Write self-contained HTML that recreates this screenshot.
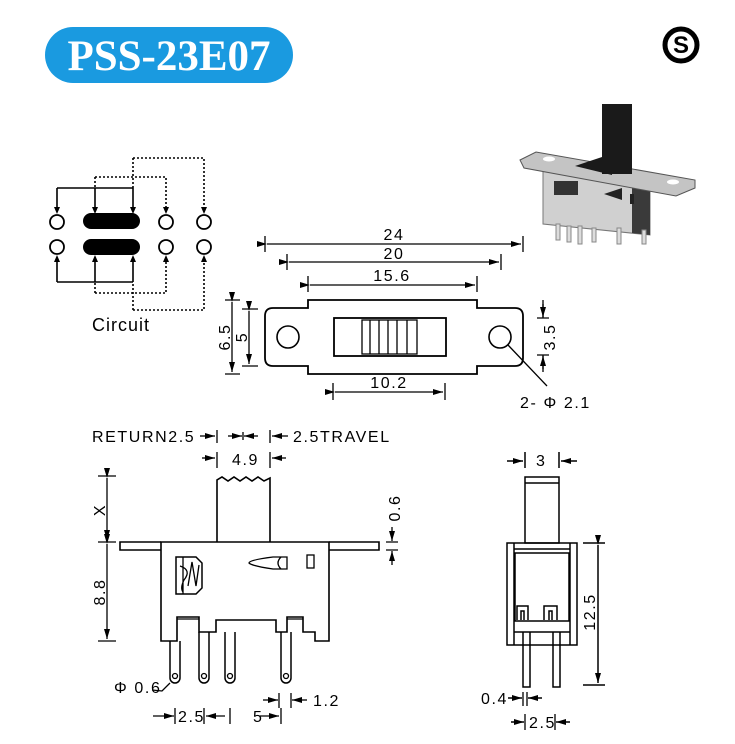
<!DOCTYPE html>
<html><head><meta charset="utf-8"><style>
html,body{margin:0;padding:0;background:#fff;}
svg{display:block;font-family:"Liberation Sans",sans-serif;}
.t text{font-size:16px;letter-spacing:1.6px;}
</style></head><body>
<svg width="735" height="744" viewBox="0 0 735 744" xmlns="http://www.w3.org/2000/svg">
<defs>
<marker id="a" markerWidth="10" markerHeight="6" refX="10" refY="3" orient="auto" markerUnits="userSpaceOnUse"><path d="M0,0 L10,3 L0,6 z" fill="#000"/></marker>
</defs>
<!-- title -->
<rect x="45" y="27" width="248" height="56" rx="28" fill="#1a9ae0"/>
<text x="169" y="70" text-anchor="middle" font-family="Liberation Serif,serif" font-weight="bold" font-size="43" fill="#fff">PSS-23E07</text>
<!-- S logo -->
<circle cx="681" cy="45" r="16" fill="none" stroke="#000" stroke-width="5"/>
<text x="681" y="53" text-anchor="middle" font-weight="bold" font-size="24">S</text>

<!-- circuit -->
<g stroke="#000" stroke-width="1.6" fill="none">
<path d="M57,188 H133 M57,188 V210 M95,188 V208 M133,188 V208" />
<path d="M57,282 H133 M57,282 V258 M95,282 V260 M133,282 V260" />
<g stroke-dasharray="2,2">
<path d="M95,177 H166 V210 M95,177 V188 M133,158 H204 V210 M133,158 V188"/>
<path d="M95,293 H166 V258 M95,293 V282 M133,310 H204 V258 M133,310 V282"/>
</g>
<g stroke-width="1.8"><circle cx="57" cy="222" r="7"/><circle cx="57" cy="247" r="7"/>
<circle cx="166" cy="222" r="7"/><circle cx="166" cy="247" r="7"/>
<circle cx="204" cy="222" r="7"/><circle cx="204" cy="247" r="7"/></g>
</g>
<rect x="83" y="213" width="57" height="16" rx="8" fill="#000"/>
<rect x="83" y="239" width="57" height="16" rx="8" fill="#000"/>
<g fill="#000"><path d="M54,207 L60,207 L57,214z M92,207 L98,207 L95,214z M130,207 L136,207 L133,214z M163,207 L169,207 L166,214z M201,207 L207,207 L204,214z"/>
<path d="M54,262 L60,262 L57,255z M92,262 L98,262 L95,255z M130,262 L136,262 L133,255z M163,262 L169,262 L166,255z M201,262 L207,262 L204,255z"/></g>
<text x="92" y="331" font-size="18" letter-spacing="1">Circuit</text>

<!-- photo -->
<g>
<polygon points="543,170 650,182 650,235 543,224" fill="#d0d0d0" stroke="#777"/>
<polygon points="632,182 650,184 650,235 632,233" fill="#3a3a3a"/>
<polygon points="520,160 536,152 695,180 695,188 676,196 524,168" fill="#c4c4c4" stroke="#555"/>
<polygon points="575,166 602,157 612,158 612,175" fill="#1a1a1a"/>
<rect x="602" y="104" width="30" height="70" fill="#1a1a1a"/>
<rect x="554" y="181" width="24" height="14" fill="#333"/>
<polygon points="604,194 622,188 622,200" fill="#222"/>
<rect x="630" y="194" width="4" height="10" fill="#222"/>
<g fill="#ddd" stroke="#888"><rect x="556" y="224" width="4" height="16"/><rect x="567" y="226" width="4" height="16"/><rect x="578" y="226" width="4" height="18"/><rect x="592" y="228" width="4" height="14"/><rect x="617" y="228" width="4" height="16"/><rect x="642" y="230" width="4" height="14"/></g>
<ellipse cx="549" cy="159" rx="6" ry="2.5" fill="#fff"/><ellipse cx="673" cy="182" rx="6" ry="2.5" fill="#fff"/>
</g>

<!-- top view -->
<g stroke="#000" stroke-width="1.3" fill="none">
<path d="M265,236 V252 M523,236 V252 M287,254 V270 M501,254 V270 M308,276 V292 M477,276 V292"/>
<line x1="267" y1="244" x2="521" y2="244" marker-end="url(#a)" marker-start="url(#a)"/>
<line x1="289" y1="262" x2="499" y2="262" marker-end="url(#a)" marker-start="url(#a)"/>
<line x1="310" y1="285" x2="475" y2="285" marker-end="url(#a)" marker-start="url(#a)"/>
<path d="M308,308 V300 H477 V308 H515 Q523,308 523,316 V358 Q523,366 515,366 H477 V374 H308 V366 H273 Q265,366 265,358 V316 Q265,308 273,308 Z" stroke-width="1.8"/>
<rect x="334" y="318" width="112" height="38" stroke-width="1.8"/>
<rect x="362" y="320" width="55" height="34"/>
<path d="M370,320 V354 M379,320 V354 M388,320 V354 M397,320 V354 M407,320 V354"/>
<circle cx="288" cy="337" r="11" stroke-width="1.6"/><circle cx="500" cy="337" r="11" stroke-width="1.6"/>
<path d="M225,300 H240 M225,374 H240 M242,309 H258 M242,366 H258"/>
<line x1="232" y1="302" x2="232" y2="372" marker-end="url(#a)" marker-start="url(#a)"/>
<line x1="249" y1="311" x2="249" y2="364" marker-end="url(#a)" marker-start="url(#a)"/>
<path d="M333,383 V400 M445,383 V400"/>
<line x1="335" y1="392" x2="443" y2="392" marker-end="url(#a)" marker-start="url(#a)"/>
<path d="M537,318 H549 M537,355 H549 M543,300 V318 M543,355 V372"/>
<line x1="543" y1="304" x2="543" y2="317" marker-end="url(#a)"/>
<line x1="543" y1="369" x2="543" y2="356" marker-end="url(#a)"/>
<path d="M508,345 L547,386"/>
</g>
<g class="t"><text x="394" y="240" text-anchor="middle">24</text><text x="394" y="259" text-anchor="middle">20</text><text x="392" y="281" text-anchor="middle">15.6</text><text x="389" y="388" text-anchor="middle">10.2</text>
<text x="230" y="337" transform="rotate(-90 230 337)" text-anchor="middle">6.5</text><text x="247" y="337" transform="rotate(-90 247 337)" text-anchor="middle">5</text>
<text x="555" y="337" transform="rotate(-90 555 337)" text-anchor="middle">3.5</text>
<text x="520" y="408">2- Φ 2.1</text></g>

<!-- side view -->
<g class="t"><text x="92" y="442">RETURN2.5</text><text x="293" y="442">2.5TRAVEL</text><text x="232" y="465">4.9</text>
<text x="105" y="510" transform="rotate(-90 105 510)" text-anchor="middle">X</text>
<text x="105" y="592" transform="rotate(-90 105 592)" text-anchor="middle">8.8</text>
<text x="400" y="508" transform="rotate(-90 400 508)" text-anchor="middle">0.6</text>
<text x="114" y="693">Φ 0.6</text><text x="313" y="706">1.2</text><text x="178" y="722">2.5</text><text x="253" y="722">5</text></g>
<g stroke="#000" stroke-width="1.3" fill="none">
<path d="M217,430 V443 M270,430 V443 M243,432 V440 M217,452 V468 M270,452 V468"/>
<line x1="200" y1="436" x2="215" y2="436" marker-end="url(#a)"/>
<line x1="228" y1="436" x2="242" y2="436" marker-end="url(#a)"/>
<line x1="258" y1="436" x2="244" y2="436" marker-end="url(#a)"/>
<line x1="288" y1="436" x2="272" y2="436" marker-end="url(#a)"/>
<line x1="202" y1="458" x2="215" y2="458" marker-end="url(#a)"/>
<line x1="286" y1="458" x2="272" y2="458" marker-end="url(#a)"/>
<path d="M217,542 V480 L222,477 L228,481 L234,477 L240,481 L246,477 L252,481 L258,477 L264,481 L270,478 V542" stroke-width="1.6"/>
<path d="M161,542 H120 V550 H161 M329,542 H379 V550 H329" stroke-width="1.6"/>
<path d="M161,542 H329 V641 H315 V632 H303 V617 H287 V632 H276 V620 H216 V632 H205 V632 H199 V617 H177 V641 H161 Z" stroke-width="1.6"/>
<path d="M177,619 H199 M287,619 H303" />
<path d="M176,557 H196 L202,563 V588 L196,594 H176 Z" stroke-width="1.5"/>
<path d="M183,557 V594 M180,566 Q192,570 184,580 Q180,588 183,592 M188,586 L192,562 L196,586 L199,565"/>
<path d="M287,557 H273 Q249,560 249,563 Q252,566 273,569 H287 Z M281,557 Q275,563 281,569"/>
<rect x="307" y="555" width="7" height="13"/>
<g stroke-width="1.5">
<path d="M170,641 V678 A5,5 0 0 0 180,678 V641"/><path d="M199,632 V678 A5,5 0 0 0 209,678 V632"/>
<path d="M225,632 V678 A5,5 0 0 0 235,678 V632"/><path d="M281,632 V678 A5,5 0 0 0 291,678 V632"/>
</g>
<circle cx="175" cy="676" r="2.5"/><circle cx="204" cy="676" r="2.5"/><circle cx="230" cy="676" r="2.5"/><circle cx="286" cy="676" r="2.5"/>
<path d="M152,690 L162,691 L170,683"/>
<path d="M98,476 H116 M98,542 H116 M98,641 H116"/>
<line x1="107" y1="478" x2="107" y2="540" marker-end="url(#a)" marker-start="url(#a)"/>
<line x1="107" y1="544" x2="107" y2="639" marker-end="url(#a)" marker-start="url(#a)"/>
<path d="M386,542 H398 M386,550 H398"/>
<line x1="392" y1="527" x2="392" y2="541" marker-end="url(#a)"/>
<line x1="392" y1="565" x2="392" y2="551" marker-end="url(#a)"/>
<path d="M279,693 V708 M291,693 V708"/>
<line x1="263" y1="700" x2="278" y2="700" marker-end="url(#a)"/>
<line x1="307" y1="700" x2="292" y2="700" marker-end="url(#a)"/>
<path d="M175,708 V724 M204,708 V724 M230,708 V724 M281,708 V724"/>
<line x1="153" y1="716" x2="174" y2="716" marker-end="url(#a)"/>
<line x1="225" y1="716" x2="206" y2="716" marker-end="url(#a)"/>
<line x1="260" y1="716" x2="279" y2="716" marker-end="url(#a)"/>
</g>

<!-- right view -->
<g stroke="#000" stroke-width="1.5" fill="none">
<path d="M525,452 V468 M559,452 V468"/>
<line x1="507" y1="461" x2="523" y2="461" marker-end="url(#a)"/>
<line x1="577" y1="461" x2="561" y2="461" marker-end="url(#a)"/>
<rect x="525" y="477" width="34" height="66"/><path d="M525,483 H559"/>
<rect x="507" y="543" width="70" height="102"/>
<path d="M514,543 V645 M570,543 V645 M514,549 H570 M515,553 H569 V621 H515 Z M514,632 H570"/>
<path d="M517,620 V606 H528 V620 M521,620 V611 H524 V620 M544,620 V606 H557 V620 M549,620 V611 H552 V620"/>
<path d="M523,632 V687 H530 V632 M553,632 V687 H560 V632"/>
<path d="M583,543 H605 M583,685 H605"/>
<line x1="598" y1="545" x2="598" y2="683" marker-end="url(#a)" marker-start="url(#a)"/>
<path d="M523,692 V706 M527,692 V706 M525,714 V730 M555,714 V730" stroke-width="1.3"/>
<line x1="508" y1="698" x2="522" y2="698" marker-end="url(#a)"/>
<line x1="542" y1="698" x2="528" y2="698" marker-end="url(#a)"/>
<line x1="511" y1="722" x2="524" y2="722" marker-end="url(#a)"/>
<line x1="570" y1="722" x2="556" y2="722" marker-end="url(#a)"/>
</g>
<g class="t"><text x="536" y="466">3</text><text x="481" y="704">0.4</text><text x="529" y="728">2.5</text>
<text x="595" y="612" transform="rotate(-90 595 612)" text-anchor="middle">12.5</text></g>
</svg>
</body></html>
